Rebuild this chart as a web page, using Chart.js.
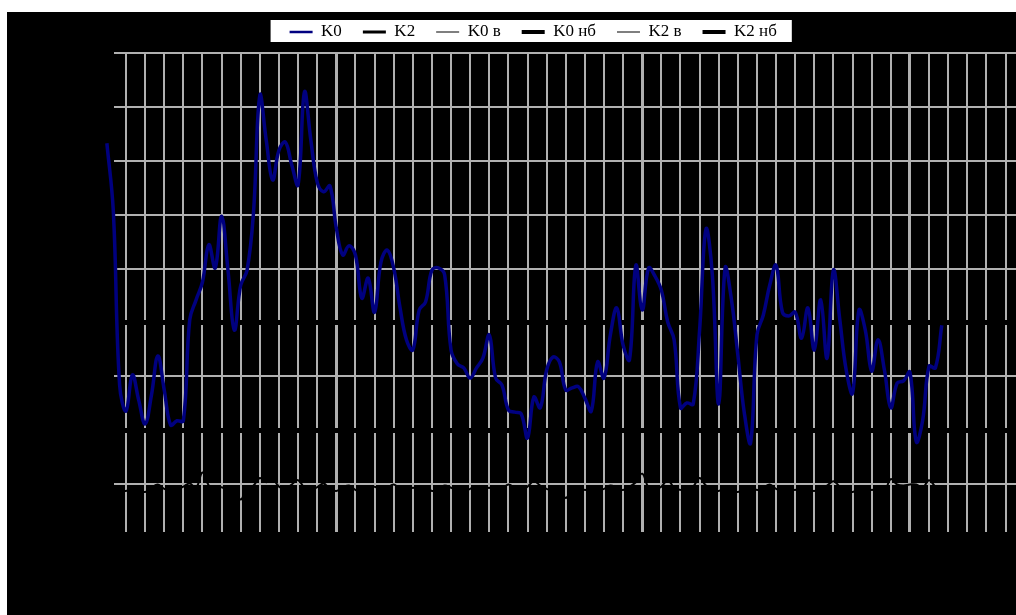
<!DOCTYPE html>
<html>
<head>
<meta charset="utf-8">
<script src="https://cdn.jsdelivr.net/npm/chart.js@4.4.1/dist/chart.umd.min.js"></script>
<style>
  html, body { margin: 0; padding: 0; background: #fff; overflow: hidden; }
  #plot { position: absolute; left: 7px; top: 12px; width: 1009px; height: 603px; background: #000; }
  #plot canvas { display: block; }
</style>
</head>
<body>
<div id="plot"><canvas id="chart" width="1009" height="603"></canvas></div>
<script>
// Day numbers of the observation period (one grid column = 3 days)
const dayCount = 144;
const days = Array.from({ length: dayCount }, (_, i) => i);

// Daily K0 values
const k0 = [
  6.32, 5.08, 1.84, 1.36, 2.03, 1.56, 1.12, 1.66, 2.38, 1.75, 1.10, 1.18,
  1.18, 3.05, 3.42, 3.75, 4.44, 4.01, 4.97, 3.97, 2.86, 3.69, 3.97, 5.03,
  7.21, 6.38, 5.64, 6.19, 6.34, 5.92, 5.55, 7.27, 6.38, 5.60, 5.42, 5.53,
  4.75, 4.25, 4.42, 4.25, 3.45, 3.82, 3.19, 4.12, 4.34, 4.01, 3.27, 2.68,
  2.49, 3.23, 3.38, 3.97, 4.01, 3.88, 2.49, 2.23, 2.16, 1.97, 2.16, 2.34,
  2.77, 1.97, 1.84, 1.38, 1.34, 1.31, 0.86, 1.62, 1.42, 2.12, 2.36, 2.27,
  1.75, 1.79, 1.81, 1.60, 1.36, 2.27, 1.97, 2.77, 3.27, 2.58, 2.31, 4.06,
  3.23, 4.01, 3.86, 3.60, 3.01, 2.68, 1.42, 1.51, 1.49, 2.86, 4.73, 3.88,
  1.49, 4.01, 3.42, 2.40, 1.34, 0.77, 2.77, 3.14, 3.69, 4.06, 3.19, 3.12,
  3.19, 2.71, 3.27, 2.49, 3.42, 2.34, 3.97, 3.05, 2.12, 1.69, 3.23, 2.86,
  2.10, 2.68, 2.12, 1.42, 1.88, 1.92, 2.08, 0.79, 1.19, 2.19, 2.16, 2.95
];

// Daily K2 values
const k2 = [
   0.05, -0.02, -0.08, -0.12, -0.05, -0.10, -0.14, -0.06,  0.00, -0.08, -0.12, -0.10,
  -0.04,  0.02, -0.06,  0.22, -0.02, -0.10, -0.05, -0.12, -0.08, -0.28, -0.06, -0.02,
   0.12,  0.04,  0.10, -0.04, -0.08,  0.00,  0.08, -0.06, -0.10, -0.05,  0.02, -0.08,
  -0.12, -0.06, -0.02, -0.10, -0.14, -0.08, -0.04, -0.10, -0.06,  0.00, -0.08, -0.12,
  -0.06, -0.10, -0.04, -0.12, -0.08, -0.02, -0.06, -0.10, -0.14, -0.08, -0.04, -0.10,
  -0.06, -0.12, -0.08,  0.00, -0.06, -0.10, -0.04,  0.06, -0.02, -0.08, -0.12, -0.06,
  -0.25, -0.08, -0.04, -0.10, -0.06, -0.12, -0.08, -0.02, -0.06, -0.10, -0.04,  0.04,
   0.20, -0.06, -0.10, -0.04,  0.08, -0.06, -0.10, -0.12, -0.04,  0.12, -0.02, -0.08,
  -0.12, -0.06, -0.10, -0.14, -0.08, -0.04, -0.10, -0.06,  0.00, -0.08, -0.12, -0.06,
  -0.10, -0.04, -0.08, -0.12, -0.06, -0.02,  0.06, -0.04, -0.10, -0.14, -0.08, -0.04,
  -0.10, -0.06, -0.12,  0.10,  0.00, -0.02,  0.00,  0.00, -0.06,  0.08, -0.04, -0.10
];

// Limit levels
const k0Upper = 3;     // K0 в
const k0Highest = 3;   // K0 нб
const k2Upper = 1;     // K2 в
const k2Highest = 1;   // K2 нб

// Axis ranges and gridline positions
const xMin = -0.138;
const xMax = 142.645;
const yMin = -0.88;
const yMax = 8.01;
const xGridDays = Array.from({ length: 47 }, (_, k) => 3 + 3 * k);
const xBoldDays = [36, 84, 126];
const yGridValues = [0, 1, 2, 3, 4, 5, 6, 7, 8];

const gridColor = 'rgb(176,176,176)';
const navy = '#000080';

const toPoints = (values) => values.map((v, i) => ({ x: days[i], y: v }));
const level = (v) => days.map((d) => ({ x: d, y: v }));

function lineSet(label, data, color, width, legendWidth) {
  return {
    label, data,
    borderColor: color, borderWidth: width,
    pointRadius: 0, pointHoverRadius: 0, pointHitRadius: 0,
    pointStyle: 'line', pointBorderColor: color, pointBorderWidth: legendWidth,
    backgroundColor: color, fill: false, tension: 0.4, clip: 6
  };
}

// Frame: white legend panel, legend placement and the left margin of the grid
const frame = {
  id: 'frame',
  beforeDraw(chart) {
    const lg = chart.legend;
    const ctx = chart.ctx;
    const w = lg.right - lg.left;
    lg.left = 526.2 - w / 2;
    lg.right = lg.left + w;
    lg.top = -9.5;
    lg.bottom = lg.top + lg.height;
    const pad = lg.options.labels.padding;
    const rowW = lg.lineWidths[0];
    const start = (lg.left + pad + lg.right - rowW) / 2;
    const end = start + rowW - pad;
    ctx.save();
    ctx.fillStyle = '#fff';
    ctx.fillRect(start - 19, 8, end - start + 34, 22);
    ctx.restore();
  },
  beforeDatasetsDraw(chart) {
    const a = chart.chartArea;
    const ctx = chart.ctx;
    ctx.save();
    ctx.fillStyle = '#000';
    ctx.fillRect(a.left - 2, a.top - 3, 107 - a.left + 2, a.bottom - a.top + 6);
    ctx.restore();
  }
};

new Chart(document.getElementById('chart'), {
  type: 'line',
  data: {
    datasets: [
      lineSet('K0', toPoints(k0), navy, 3.5, 2.5),
      lineSet('K2', toPoints(k2), '#000', 2, 3),
      lineSet('K0 в', level(k0Upper), '#000', 1, 1.2),
      lineSet('K0 нб', level(k0Highest), '#000', 5, 4),
      lineSet('K2 в', level(k2Upper), '#000', 1, 1.2),
      lineSet('K2 нб', level(k2Highest), '#000', 5, 4)
    ]
  },
  options: {
    responsive: false,
    animation: false,
    devicePixelRatio: 1,
    layout: { padding: 0 },
    events: [],
    plugins: {
      tooltip: { enabled: false },
      legend: {
        position: 'top',
        maxHeight: 40,
        labels: {
          usePointStyle: true,
          pointStyleWidth: 23,
          padding: 21,
          color: '#000',
          font: { family: '"Liberation Serif", "Times New Roman", serif', size: 17 }
        }
      }
    },
    scales: {
      x: {
        type: 'linear', min: xMin, max: xMax,
        afterBuildTicks(s) { s.ticks = xGridDays.map((v) => ({ value: v })); },
        afterFit(s) { s.height = 83; },
        ticks: { display: false },
        grid: {
          color: gridColor,
          lineWidth: (c) => (c.tick && xBoldDays.includes(c.tick.value) ? 3 : 2),
          drawTicks: false
        },
        border: { display: false }
      },
      y: {
        type: 'linear', min: yMin, max: yMax,
        afterBuildTicks(s) { s.ticks = yGridValues.map((v) => ({ value: v })); },
        afterFit(s) { s.width = 99; },
        ticks: { display: false },
        grid: { color: gridColor, lineWidth: 2, drawTicks: false },
        border: { display: false }
      }
    }
  },
  plugins: [frame]
});
</script>
</body>
</html>
